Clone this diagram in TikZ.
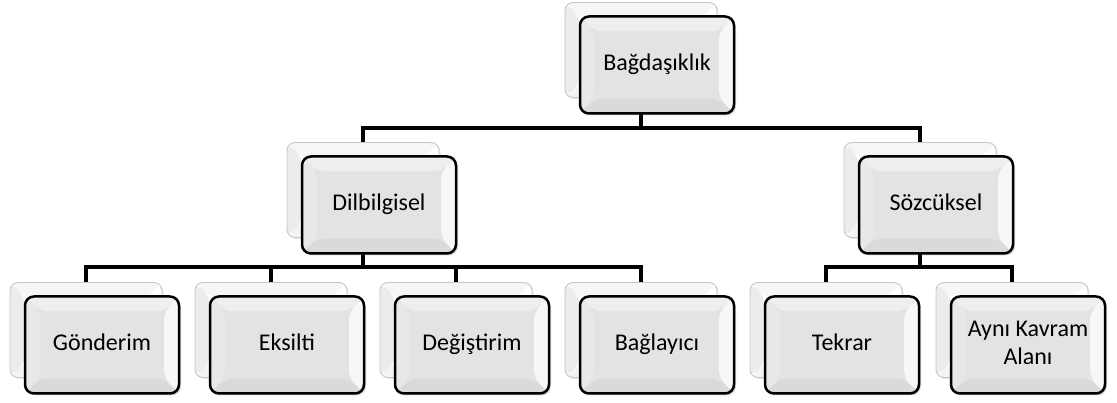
\documentclass[tikz,border=0pt]{standalone}
\usepackage{fontspec}
\setmainfont{Carlito}
\usetikzlibrary{shadows}

\begin{document}
\begin{tikzpicture}[x=1pt,y=1pt]

% =========================
% Styles (ALL IN ONE BLOCK)
% =========================
\tikzset{
    bevel/.style n args={5}{fill=#1, path picture={
        \fill[#2] (path picture bounding box.north west) -- (path picture bounding box.north east)
            -- ([xshift=-15pt,yshift=-15pt]path picture bounding box.north east)
            -- ([xshift=15pt,yshift=-15pt]path picture bounding box.north west) -- cycle;
        \fill[#3] (path picture bounding box.north west) -- (path picture bounding box.south west)
            -- ([xshift=15pt,yshift=15pt]path picture bounding box.south west)
            -- ([xshift=15pt,yshift=-15pt]path picture bounding box.north west) -- cycle;
        \fill[#4] (path picture bounding box.north east) -- (path picture bounding box.south east)
            -- ([xshift=-15pt,yshift=15pt]path picture bounding box.south east)
            -- ([xshift=-15pt,yshift=-15pt]path picture bounding box.north east) -- cycle;
        \fill[#5] (path picture bounding box.south west) -- (path picture bounding box.south east)
            -- ([xshift=-15pt,yshift=15pt]path picture bounding box.south east)
            -- ([xshift=15pt,yshift=15pt]path picture bounding box.south west) -- cycle;
    }},
    backbox/.style={draw=gray!45, line width=0.9pt, rounded corners=8pt,
        bevel={white}{gray!7}{gray!15}{white}{gray!9},
        minimum width=152pt, minimum height=95pt,
        drop shadow={opacity=0.2, shadow xshift=1.5pt, shadow yshift=-1.5pt}},
    frontbox/.style={draw=black, line width=2.5pt, rounded corners=9pt,
        bevel={gray!22}{gray!13}{gray!18}{gray!6}{gray!29},
        minimum width=154pt, minimum height=97pt, align=center,
        font=\fontsize{24}{28}\selectfont, text=black,
        drop shadow={opacity=0.3, shadow xshift=2pt, shadow yshift=-2pt}},
    link/.style={line width=4.5pt, black}
}

\useasboundingbox (0,0) rectangle (1117,403);

% =========================
% Connectors
% =========================
\coordinate (top) at (641,353);
\coordinate (dil) at (363,213);
\coordinate (soz) at (920,213);
\foreach \n/\x in {gon/86, eks/271, deg/456, bag/641, tek/826, ayn/1012} {
    \coordinate (\n) at (\x,73);
}

\draw[link] (top) -- ++(0,-78) -| (dil);
\draw[link] (top) -- ++(0,-78) -| (soz);
\foreach \n in {gon, eks, deg, bag} {
    \draw[link] (dil) -- ++(0,-77) -| (\n);
}
\foreach \n in {tek, ayn} {
    \draw[link] (soz) -- ++(0,-77) -| (\n);
}

% =========================
% Boxes (back + front)
% =========================
\foreach \n/\t in {top/Bağdaşıklık, dil/Dilbilgisel, soz/Sözcüksel, gon/Gönderim,
                   eks/Eksilti, deg/Değiştirim, bag/Bağlayıcı, tek/Tekrar,
                   ayn/{Aynı Kavram\\Alanı}} {
    \node[backbox] (\n-b) at (\n) {};
    \node[frontbox] (\n-f) at ([xshift=16pt,yshift=-15pt]\n) {\strut\t\strut};
}

\end{tikzpicture}
\end{document}
